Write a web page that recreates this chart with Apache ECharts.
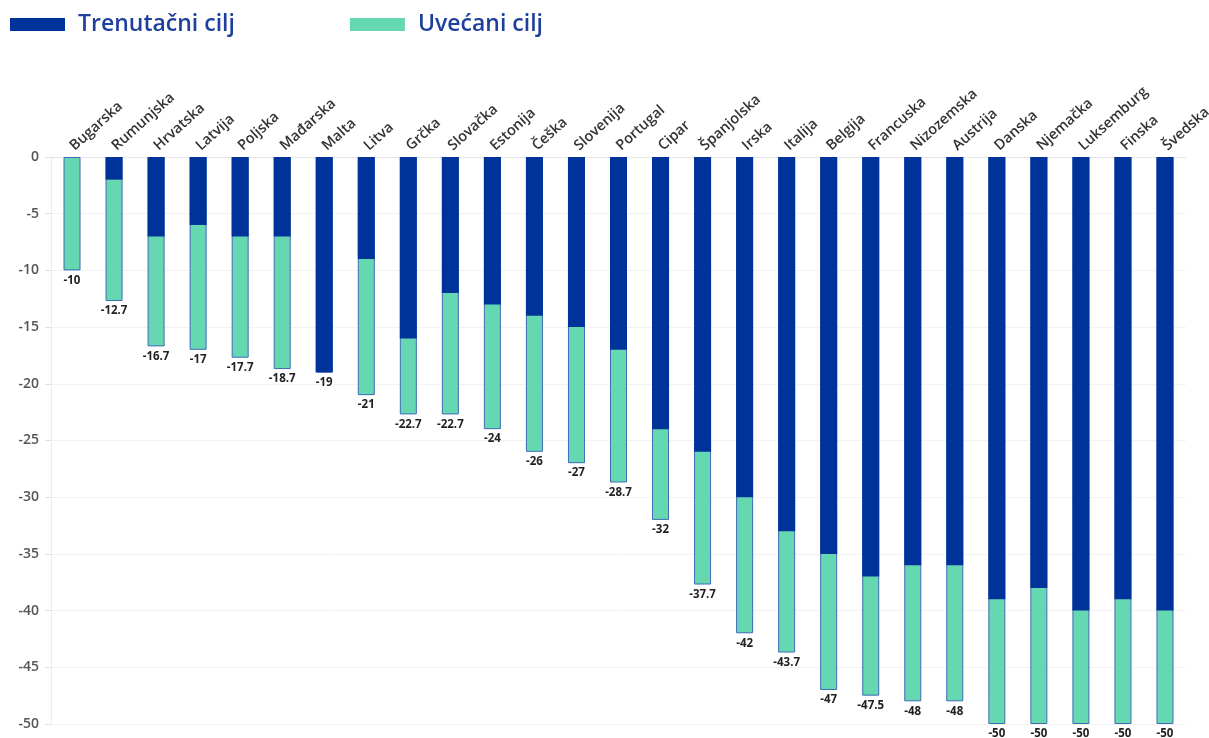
<!DOCTYPE html>
<html>
<head>
<meta charset="utf-8">
<title>Trenutačni i uvećani cilj</title>
<script src="https://cdn.jsdelivr.net/npm/echarts@6/dist/echarts.min.js"></script>
<style>
	html,body{margin:0;padding:0;background:#fff;}
	#chart{width:1209px;height:738px;}
</style>
</head>
<body>
<div id="chart"></div>
<script>
// drzave, redoslijed kao na slici
var countries = ['Bugarska','Rumunjska','Hrvatska','Latvija','Poljska','Mađarska','Malta','Litva','Grčka','Slovačka',
	'Estonija','Češka','Slovenija','Portugal','Cipar','Španjolska','Irska','Italija','Belgija','Francuska',
	'Nizozemska','Austrija','Danska','Njemačka','Luksemburg','Finska','Švedska'];
// trenutacni cilj (tamnoplavo)
var currentTarget = [0,-2,-7,-6,-7,-7,-19,-9,-16,-12,-13,-14,-15,-17,-24,-26,-30,-33,-35,-37,-36,-36,-39,-38,-40,-39,-40];
// uvecani cilj (ukupno, zeleno)
var increasedTarget = [-10,-12.7,-16.7,-17,-17.7,-18.7,-19,-21,-22.7,-22.7,-24,-26,-27,-28.7,-32,-37.7,-42,-43.7,-47,-47.5,-48,-48,-50,-50,-50,-50,-50];
var yTicks = [0,-5,-10,-15,-20,-25,-30,-35,-40,-45,-50];

var myChart = echarts.init(document.getElementById('chart'));
var option = {
	animation: false,
	legend: {
		data: [
			{name: 'Trenutačni cilj', itemStyle: {borderWidth: 0}},
			{name: 'Uvećani cilj', itemStyle: {borderWidth: 0}}
		],
		left: 5,
		top: 8,
		itemWidth: 55,
		itemHeight: 13,
		itemGap: 115,
		icon: 'rect',
		textStyle: {
			color: '#1f3f9c',
			fontSize: 23,
			fontWeight: 600,
			fontFamily: 'Open Sans',
			padding: [0, 0, 0, 8]
		}
	},
	grid: {
		left: 51,
		right: 23,
		top: 157,
		bottom: 14,
		outerBoundsMode: 'none'
	},
	xAxis: {
		type: 'category',
		position: 'top',
		data: countries,
		axisLine: {lineStyle: {color: '#e6e6e6'}},
		axisTick: {alignWithLabel: true, length: 4, lineStyle: {color: '#e0e0e0'}},
		axisLabel: {
			rotate: 42,
			interval: 0,
			margin: 9,
			color: '#333',
			fontSize: 14.5,
			fontWeight: 600,
			fontFamily: 'Open Sans'
		}
	},
	yAxis: {
		type: 'value',
		min: -50,
		max: 0,
		interval: 5,
		axisLine: {show: true, lineStyle: {color: '#ececec'}},
		axisTick: {show: true, length: 6, lineStyle: {color: '#e0e0e0'}},
		splitLine: {lineStyle: {color: '#f2f2f2'}},
		axisLabel: {
			margin: 12,
			color: '#555',
			fontSize: 14,
			fontWeight: 600,
			fontFamily: 'Open Sans',
			formatter: function (v) { return yTicks.indexOf(v) >= 0 ? String(v) : ''; }
		}
	},
	series: [
		{
			name: 'Uvećani cilj',
			type: 'bar',
			data: increasedTarget,
			barWidth: 17,
			z: 2,
			itemStyle: {color: '#66d8b1', borderColor: '#3e6bb8', borderWidth: 1},
			label: {
				show: true,
				position: 'bottom',
				distance: 4,
				color: '#222',
				fontSize: 11.5,
				fontWeight: 'bold',
				fontFamily: 'Open Sans'
			}
		},
		{
			name: 'Trenutačni cilj',
			type: 'bar',
			data: currentTarget,
			barWidth: 17,
			barGap: '-100%',
			z: 3,
			itemStyle: {color: '#00339a'}
		}
	]
};
myChart.setOption(option);
</script>
</body>
</html>
